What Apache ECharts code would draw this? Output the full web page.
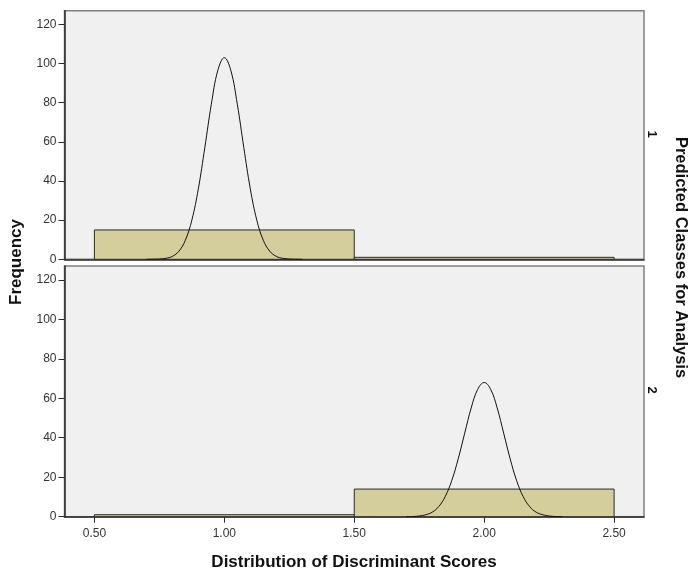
<!DOCTYPE html>
<html>
<head>
<meta charset="utf-8">
<script src="https://cdn.jsdelivr.net/npm/echarts@6/dist/echarts.min.js"></script>
<style>
html,body{margin:0;padding:0;background:#fff;}
#chart{width:689px;height:572px;}
</style>
</head>
<body>
<div id="chart"></div>
<script>
// ---- data ----
const xTicks = [0.5, 1.0, 1.5, 2.0, 2.5];
const yTicks = [0, 20, 40, 60, 80, 100, 120];
const panelLabels = ['1', '2'];
const binStart = [0.5, 1.5];
const binEnd = [1.5, 2.5];
const countsClass1 = [15, 1];
const countsClass2 = [1, 14];
const curve1X = [0.70,0.75,0.775,0.80,0.825,0.85,0.875,0.90,0.925,0.95,0.975,1.00,1.025,1.05,1.075,1.10,1.125,1.15,1.175,1.20,1.225,1.25,1.30];
const curve1Y = [0,0.15,0.5,1.5,4.1,9.7,20.0,36.0,57.1,79.2,96.5,103,96.5,79.2,57.1,36.0,20.0,9.7,4.1,1.5,0.5,0.15,0];
const curve2X = [1.70,1.725,1.75,1.775,1.80,1.825,1.85,1.875,1.90,1.925,1.95,1.975,2.00,2.025,2.05,2.075,2.10,2.125,2.15,2.175,2.20,2.225,2.25,2.275,2.30];
const curve2Y = [0,0.1,0.35,1.0,2.3,5.1,10.2,18.2,29.3,42.3,55.1,64.5,68,64.5,55.1,42.3,29.3,18.2,10.2,5.1,2.3,1.0,0.35,0.1,0];
const xTitle = 'Distribution of Discriminant Scores';
const yTitle = 'Frequency';
const rightTitle = 'Predicted Classes for Analysis';

// ---- build ----
const FONT = '"Liberation Sans", Arial, sans-serif';
const chart = echarts.init(document.getElementById('chart'), null, {renderer: 'canvas'});

function bins(counts) {
  return counts.map((c, i) => [binStart[i], binEnd[i], c]);
}
function pairs(xs, ys) { return xs.map((x, i) => [x, ys[i]]); }

const renderBar = function (params, api) {
  const p0 = api.coord([api.value(0), api.value(2)]);
  const p1 = api.coord([api.value(1), 0]);
  return {
    type: 'rect',
    shape: {x: p0[0], y: p0[1], width: p1[0] - p0[0], height: p1[1] - p0[1]},
    style: {fill: '#d3ce9b', stroke: '#2a2a2a', lineWidth: 1}
  };
};

const gridCommon = {left: 64.5, right: 45, show: true, backgroundColor: '#f0f0f0', borderColor: '#808080', borderWidth: 1.5};

function xAxisDef(gi, showLabels) {
  return {
    type: 'value', gridIndex: gi, min: 0.385, max: 2.615,
    axisLine: {show: true, lineStyle: {color: '#2a2a2a', width: 1.5}},
    axisTick: {show: showLabels, length: 6, customValues: xTicks, lineStyle: {color: '#2a2a2a'}},
    axisLabel: {show: showLabels, customValues: xTicks, margin: 11, color: '#333', fontSize: 12, fontFamily: FONT,
      formatter: v => v.toFixed(2)},
    splitLine: {show: false}
  };
}
function yAxisDef(gi) {
  return {
    type: 'value', gridIndex: gi, min: 0, max: 127,
    axisLine: {show: true, lineStyle: {color: '#2a2a2a', width: 1.5}},
    axisTick: {show: true, length: 6, customValues: yTicks, lineStyle: {color: '#2a2a2a'}},
    axisLabel: {customValues: yTicks, margin: 8, color: '#333', fontSize: 12, fontFamily: FONT},
    splitLine: {show: false}
  };
}

const option = {
  animation: false,
  backgroundColor: '#fff',
  grid: [
    Object.assign({top: 10.7, height: 248.6}, gridCommon),
    Object.assign({top: 266, height: 250.7}, gridCommon)
  ],
  xAxis: [xAxisDef(0, false), xAxisDef(1, true)],
  yAxis: [yAxisDef(0), yAxisDef(1)],
  series: [
    {type: 'custom', xAxisIndex: 0, yAxisIndex: 0, renderItem: renderBar, encode: {x: [0, 1], y: 2}, data: bins(countsClass1), z: 2},
    {type: 'custom', xAxisIndex: 1, yAxisIndex: 1, renderItem: renderBar, encode: {x: [0, 1], y: 2}, data: bins(countsClass2), z: 2},
    {type: 'line', xAxisIndex: 0, yAxisIndex: 0, data: pairs(curve1X, curve1Y), smooth: 0.4, symbol: 'none',
      lineStyle: {color: '#111', width: 1}, z: 3},
    {type: 'line', xAxisIndex: 1, yAxisIndex: 1, data: pairs(curve2X, curve2Y), smooth: 0.4, symbol: 'none',
      lineStyle: {color: '#111', width: 1}, z: 3}
  ],
  graphic: [
    {type: 'text', x: 16.5, y: 262, rotation: Math.PI / 2,
      style: {text: yTitle, font: 'bold 17px ' + FONT, fill: '#111', align: 'center', verticalAlign: 'middle'}},
    {type: 'text', x: 354, y: 562.5,
      style: {text: xTitle, font: 'bold 17px ' + FONT, fill: '#111', align: 'center', verticalAlign: 'middle'}},
    {type: 'text', x: 681, y: 257.5, rotation: -Math.PI / 2,
      style: {text: rightTitle, font: 'bold 16.5px ' + FONT, fill: '#111', align: 'center', verticalAlign: 'middle'}},
    {type: 'text', x: 652, y: 134, rotation: -Math.PI / 2,
      style: {text: panelLabels[0], font: 'bold 13px ' + FONT, fill: '#111', align: 'center', verticalAlign: 'middle'}},
    {type: 'text', x: 652, y: 390, rotation: -Math.PI / 2,
      style: {text: panelLabels[1], font: 'bold 13px ' + FONT, fill: '#111', align: 'center', verticalAlign: 'middle'}}
  ]
};
chart.setOption(option);
</script>
</body>
</html>
